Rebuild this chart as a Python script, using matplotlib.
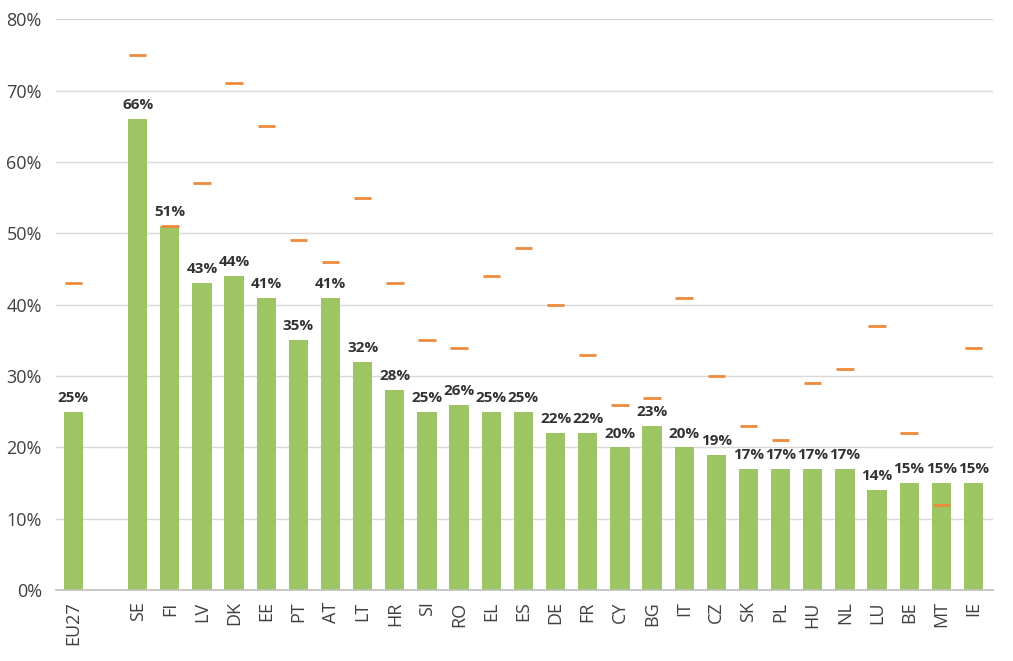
import matplotlib
matplotlib.use("Agg")
import matplotlib.pyplot as plt
from matplotlib.ticker import PercentFormatter

categories = ["EU27", "", "SE", "FI", "LV", "DK", "EE", "PT", "AT", "LT", "HR", "SI", "RO",
              "EL", "ES", "DE", "FR", "CY", "BG", "IT", "CZ", "SK", "PL", "HU", "NL",
              "LU", "BE", "MT", "IE"]
shares = [25, None, 66, 51, 43, 44, 41, 35, 41, 32, 28, 25, 26,
          25, 25, 22, 22, 20, 23, 20, 19, 17, 17, 17, 17,
          14, 15, 15, 15]
targets = [43, None, 75, 51, 57, 71, 65, 49, 46, 55, 43, 35, 34,
           44, 48, 40, 33, 26, 27, 41, 30, 23, 21, 29, 31,
           37, 22, 12, 34]

plt.rcParams['font.family'] = ['Open Sans', 'DejaVu Sans']

fig = plt.figure(figsize=(10.13, 6.61), dpi=100)
ax = fig.add_axes([0.055, 0.107, 0.925, 0.864])

bar_color = "#9DC564"
dash_color = "#EE8A3C"
bw = 0.6

for i, (c, v, t) in enumerate(zip(categories, shares, targets)):
    if v is None:
        continue
    ax.bar(i, v, width=bw, color=bar_color, zorder=2)
    ax.annotate(f"{v}%", (i, v), xytext=(0, 5), textcoords="offset points",
                ha="center", va="bottom", fontsize=11, fontweight="bold",
                color="#333333", zorder=4)
    ax.hlines(t, i - 0.27, i + 0.27, colors=dash_color, linewidth=2, zorder=3)

ax.set_ylim(0, 80)
ax.set_xlim(-0.55, len(categories) - 0.4)
ax.set_yticks(range(0, 81, 10))
ax.yaxis.set_major_formatter(PercentFormatter(decimals=0))
ax.set_xticks(range(len(categories)))
ax.set_xticklabels(categories, rotation=90)
ax.tick_params(axis='both', length=0, labelsize=13, colors="#404040")
ax.tick_params(axis='x', pad=8)
ax.tick_params(axis='y', pad=10)
ax.grid(axis='y', color="#D9D9D9", linewidth=1, zorder=0)
ax.set_axisbelow(True)
for s in ["top", "right", "left"]:
    ax.spines[s].set_visible(False)
ax.spines["bottom"].set_color("#BFBFBF")
ax.spines["bottom"].set_linewidth(1.2)

fig.savefig("out.png", dpi=100)
